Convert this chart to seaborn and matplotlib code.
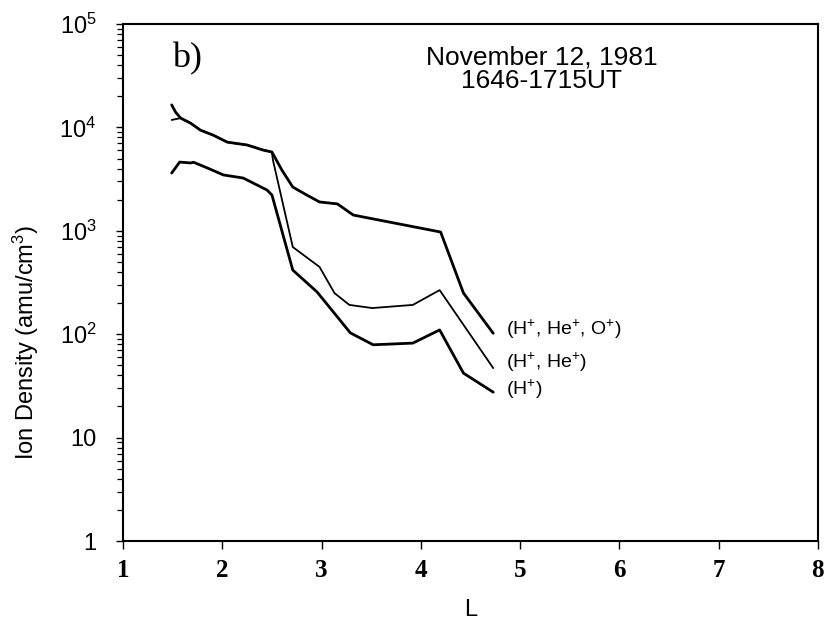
import matplotlib
matplotlib.use("Agg")
import matplotlib.pyplot as plt
import seaborn as sns
import numpy as np
import pandas as pd
from matplotlib.ticker import LogLocator, FixedLocator, FixedFormatter, NullFormatter

# ---- data ----
L_all = [1.49, 1.53, 1.58, 1.68, 1.78, 1.91, 2.05, 2.25, 2.41, 2.50, 2.60, 2.71, 2.85, 2.98, 3.16, 3.32, 4.20, 4.43, 4.73]
dens_all = [16500, 14000, 12300, 11000, 9400, 8400, 7200, 6760, 6040, 5780, 3870, 2650, 2220, 1900, 1820, 1420, 973, 250, 102]

L_hhe = [1.49, 1.58, 1.68, 1.78, 1.91, 2.05, 2.25, 2.41, 2.50, 2.51, 2.71, 2.98, 3.13, 3.28, 3.51, 3.92, 4.19, 4.73]
dens_hhe = [11800, 12300, 11000, 9400, 8400, 7200, 6760, 6040, 5780, 4840, 697, 447, 250, 192, 179, 192, 267, 47]

L_h = [1.49, 1.57, 1.68, 1.71, 1.85, 2.01, 2.21, 2.45, 2.50, 2.71, 2.955, 3.29, 3.52, 3.92, 4.19, 4.43, 4.73]
dens_h = [3620, 4620, 4530, 4600, 4050, 3470, 3240, 2480, 2220, 417, 256, 103, 79, 82, 110, 42, 27.5]

series_labels = ["(H$^{+}$, He$^{+}$, O$^{+}$)", "(H$^{+}$, He$^{+}$)", "(H$^{+}$)"]
label_y = [112, 54, 29]
title_lines = ["November 12, 1981", "1646-1715UT"]
ytick_vals = [1, 10, 100, 1000, 10000, 100000]
ytick_labels = ["1", "10", "10$^{2}$", "10$^{3}$", "10$^{4}$", "10$^{5}$"]
xtick_vals = [1, 2, 3, 4, 5, 6, 7, 8]

sns.set_theme(style="ticks")
plt.rcParams["font.family"] = ["Liberation Sans", "DejaVu Sans"]
plt.rcParams["mathtext.fontset"] = "custom"
plt.rcParams["mathtext.rm"] = "Liberation Sans"
plt.rcParams["mathtext.it"] = "Liberation Sans:italic"
plt.rcParams["text.color"] = "black"
plt.rcParams["axes.labelcolor"] = "black"
plt.rcParams["xtick.color"] = "black"
plt.rcParams["ytick.color"] = "black"

fig = plt.figure(figsize=(8.26, 6.25), dpi=100)
ax = fig.add_axes([0.149, 0.1344, 0.841, 0.8272])

for Ls, ds, lw in [(L_all, dens_all, 2.0), (L_hhe, dens_hhe, 1.3), (L_h, dens_h, 2.0)]:
    df = pd.DataFrame({"L": Ls, "density": ds})
    sns.lineplot(data=df, x="L", y="density", ax=ax, color="black", lw=lw,
                 sort=False, estimator=None)

ax.set_yscale("log")
ax.set_xlim(1, 8)
ax.set_ylim(1, 1e5)

ax.yaxis.set_major_locator(FixedLocator(ytick_vals))
ax.yaxis.set_major_formatter(FixedFormatter(ytick_labels))
ax.yaxis.set_minor_locator(LogLocator(base=10, subs=np.arange(2, 10), numticks=20))
ax.yaxis.set_minor_formatter(NullFormatter())
ax.xaxis.set_major_locator(FixedLocator(xtick_vals))

ax.tick_params(axis="y", which="major", direction="out", length=5, width=1.0,
               labelsize=17, pad=14)
ax.tick_params(axis="y", which="minor", direction="out", length=4, width=0.9)
ax.tick_params(axis="x", which="major", direction="out", length=6, width=1.0,
               labelsize=18, pad=7)
for t in ax.get_xticklabels():
    t.set_family(["Liberation Serif", "DejaVu Serif"])
    t.set_fontweight("bold")

for sp in ax.spines.values():
    sp.set_visible(True)
    sp.set_color("black")
    sp.set_linewidth(1.5)

ax.set_xlabel("L", fontsize=17, labelpad=12)
ax.set_ylabel("Ion Density (amu/cm$^{3}$)", fontsize=17)
ax.yaxis.set_label_coords(-0.118, 0.385)

for lab, yv in zip(series_labels, label_y):
    ax.text(4.86, yv, lab, fontsize=14, va="center", ha="left")

ax.text(0.603, 0.913, title_lines[0] + "\n" + title_lines[1], transform=ax.transAxes,
        ha="center", va="center", fontsize=19, linespacing=0.95)
ax.text(0.07, 0.933, "b)", transform=ax.transAxes, ha="left", va="center",
        fontsize=26, family=["Liberation Serif", "DejaVu Serif"])

fig.savefig("out.png", dpi=100, facecolor="white")
